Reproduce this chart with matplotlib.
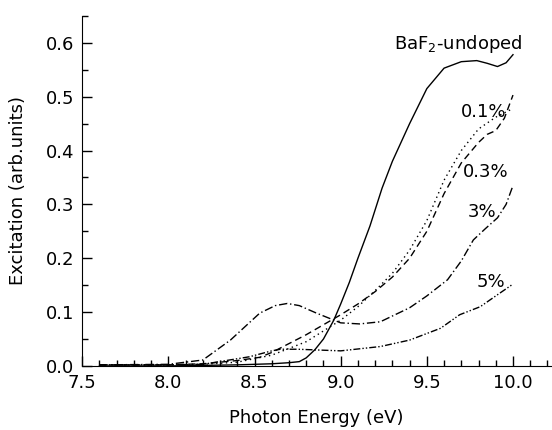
import matplotlib
matplotlib.use("Agg")
import matplotlib.pyplot as plt
from matplotlib.ticker import MultipleLocator

# --- données ---
e_undoped = [7.6, 8.0, 8.4, 8.6, 8.7, 8.76, 8.8, 8.85, 8.9, 8.96, 9.0, 9.05, 9.1, 9.17, 9.24,
             9.3, 9.4, 9.5, 9.6, 9.7, 9.79, 9.85, 9.91, 9.96, 10.0]
v_undoped = [0.0, 0.0, 0.002, 0.004, 0.006, 0.008, 0.015, 0.03, 0.05, 0.085, 0.115, 0.155, 0.2,
             0.26, 0.33, 0.38, 0.45, 0.515, 0.553, 0.565, 0.567, 0.562, 0.556, 0.563, 0.578]

e_01 = [7.6, 8.0, 8.2, 8.4, 8.6, 8.8, 9.0, 9.1, 9.2, 9.3, 9.4, 9.5, 9.6, 9.7, 9.8, 9.9, 10.0]
v_01 = [0.002, 0.002, 0.003, 0.007, 0.02, 0.045, 0.085, 0.11, 0.14, 0.172, 0.215, 0.27, 0.345,
        0.4, 0.44, 0.462, 0.478]

e_03 = [7.6, 8.0, 8.2, 8.4, 8.53, 8.6, 8.8, 9.0, 9.1, 9.2, 9.3, 9.4, 9.5, 9.6, 9.7, 9.8, 9.85,
        9.9, 9.95, 10.0]
v_03 = [0.002, 0.002, 0.004, 0.01, 0.016, 0.025, 0.058, 0.095, 0.115, 0.138, 0.165, 0.2, 0.25,
        0.32, 0.377, 0.415, 0.43, 0.437, 0.46, 0.503]

e_3 = [7.6, 8.0, 8.2, 8.36, 8.53, 8.62, 8.69, 8.76, 8.86, 9.0, 9.11, 9.23, 9.4, 9.5, 9.62, 9.7,
       9.77, 9.84, 9.91, 9.96, 10.0]
v_3 = [0.002, 0.003, 0.011, 0.048, 0.098, 0.112, 0.116, 0.112, 0.098, 0.08, 0.078, 0.082, 0.108,
       0.13, 0.16, 0.195, 0.234, 0.255, 0.275, 0.3, 0.335]

e_5 = [7.6, 8.0, 8.2, 8.47, 8.6, 8.65, 8.75, 9.0, 9.23, 9.4, 9.58, 9.69, 9.81, 9.9, 10.0]
v_5 = [0.002, 0.002, 0.003, 0.017, 0.028, 0.031, 0.031, 0.028, 0.036, 0.048, 0.07, 0.095,
       0.11, 0.13, 0.152]

fig = plt.figure(figsize=(5.52, 4.30), dpi=100)
ax = fig.add_axes([0.149, 0.149, 0.849, 0.814])

ax.plot(e_undoped, v_undoped, color="black", lw=1.0, linestyle="-")
ax.plot(e_01, v_01, color="black", lw=1.0, linestyle=(0, (1, 2.5)))
ax.plot(e_03, v_03, color="black", lw=1.0, linestyle=(0, (5, 3)))
ax.plot(e_3, v_3, color="black", lw=1.0, linestyle=(0, (6, 2, 1, 2)))
ax.plot(e_5, v_5, color="black", lw=1.0, linestyle=(0, (5, 1.5, 1, 1.5, 1, 1.5)))

fs = 13
ax.text(9.31, 0.597, "BaF$_2$-undoped", fontsize=fs, ha="left", va="center")
ax.text(9.83, 0.472, "0.1%", fontsize=fs, ha="center", va="center")
ax.text(9.84, 0.36, "0.3%", fontsize=fs, ha="center", va="center")
ax.text(9.82, 0.286, "3%", fontsize=fs, ha="center", va="center")
ax.text(9.87, 0.156, "5%", fontsize=fs, ha="center", va="center")

ax.set_xlim(7.5, 10.22)
ax.set_ylim(0, 0.65)
ax.xaxis.set_major_locator(MultipleLocator(0.5))
ax.xaxis.set_minor_locator(MultipleLocator(0.1))
ax.yaxis.set_major_locator(MultipleLocator(0.1))
ax.yaxis.set_minor_locator(MultipleLocator(0.05))
ax.xaxis.set_major_formatter(plt.FormatStrFormatter("%.1f"))
ax.yaxis.set_major_formatter(plt.FormatStrFormatter("%.1f"))
ax.tick_params(which="major", direction="in", length=7, width=1, labelsize=fs)
ax.tick_params(which="minor", direction="in", length=4, width=1)
ax.tick_params(axis="x", which="major", pad=6)
ax.tick_params(axis="y", which="major", pad=6)
ax.spines["top"].set_visible(False)
ax.spines["right"].set_visible(False)

ax.set_xlabel("Photon Energy (eV)", fontsize=fs, labelpad=12)
ax.set_ylabel("Excitation (arb.units)", fontsize=fs, labelpad=13)

fig.savefig("out.png", dpi=100)
